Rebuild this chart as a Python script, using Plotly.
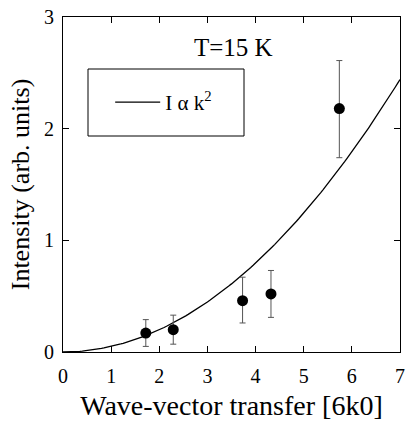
import plotly.graph_objects as go
import numpy as np

# Data points
k_data = [1.72, 2.29, 3.73, 4.32, 5.74]
I_data = [0.17, 0.20, 0.46, 0.52, 2.18]
err_plus = [0.12, 0.13, 0.21, 0.21, 0.43]
err_minus = [0.12, 0.13, 0.20, 0.21, 0.44]

# Model curve I = a * k^2 (coefficient)
a_coef = 0.0498
k_curve = np.linspace(0, 7, 141)
I_curve = a_coef * k_curve ** 2

x_ticks = [0, 1, 2, 3, 4, 5, 6, 7]
y_ticks = [0, 1, 2, 3]

FONT = "Liberation Serif"

fig = go.Figure()
fig.add_trace(go.Scatter(
    x=k_curve, y=I_curve, mode="lines",
    line=dict(color="black", width=1.3),
    name="I α k<sup>2</sup>", showlegend=True,
))
fig.add_trace(go.Scatter(
    x=k_data, y=I_data, mode="markers",
    marker=dict(color="black", size=11),
    error_y=dict(type="data", array=err_plus, arrayminus=err_minus,
                 color="#555", thickness=1, width=3),
    showlegend=False,
))

axis_common = dict(
    showline=True, linecolor="black", linewidth=1, mirror="ticks",
    ticks="inside", ticklen=6, tickcolor="black", tickwidth=1,
    showgrid=False, zeroline=False, automargin=False,
    tickfont=dict(family=FONT, size=20, color="black"),
)

fig.update_layout(
    width=406, height=421,
    margin=dict(l=63, r=6, t=17, b=69),
    paper_bgcolor="white", plot_bgcolor="white",
    xaxis=dict(range=[0, 7], tickvals=x_ticks,
               title=dict(text="Wave-vector transfer [6k0]",
                          font=dict(family=FONT, size=28, color="black"),
                          standoff=10),
               ticklabelstandoff=6,
               **axis_common),
    yaxis=dict(range=[0, 3], tickvals=y_ticks,
               title=dict(text="Intensity (arb. units)",
                          font=dict(family=FONT, size=26, color="black"),
                          standoff=6),
               ticklabelstandoff=4,
               **axis_common),
    legend=dict(x=0.14, y=0.745, xanchor="left", yanchor="middle",
                bgcolor="rgba(0,0,0,0)", borderwidth=0,
                font=dict(family=FONT, size=21, color="black"),
                itemwidth=45),
    showlegend=True,
    shapes=[dict(type="rect", xref="paper", yref="paper",
                 x0=(88 - 63) / 337, x1=(244 - 63) / 337,
                 y0=(352 - 136) / 335, y1=(352 - 69) / 335,
                 line=dict(color="black", width=1))],
    annotations=[dict(text="T=15 K", xref="paper", yref="paper",
                      x=(233 - 63) / 337, y=(352 - 48) / 335,
                      showarrow=False, xanchor="center", yanchor="middle",
                      font=dict(family=FONT, size=25, color="black"))],
)

fig.write_html("out.html")
